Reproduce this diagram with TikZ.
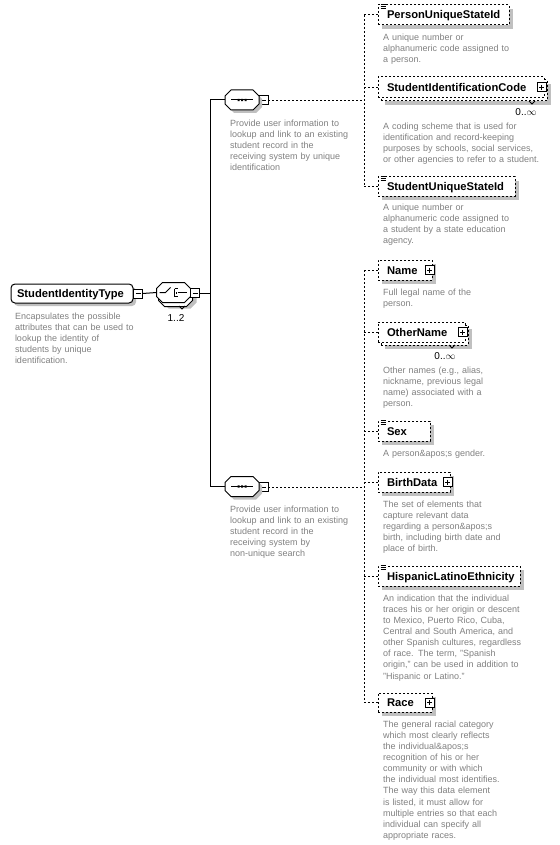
\documentclass[tikz,border=0pt]{standalone}
\usepackage{fontspec}
\setmainfont{Liberation Sans}
\usetikzlibrary{shadows}
\definecolor{desctext}{RGB}{128,128,128}
\definecolor{shadegray}{RGB}{192,192,192}
\tikzset{
  every node/.style={inner sep=0pt, outer sep=0pt},
  shd/.style={drop shadow={shadow xshift=#1, shadow yshift=-#1, fill=shadegray, opacity=1}},
  shd/.default=4pt,
  dashline/.style={line width=1pt, dash pattern=on 2pt off 2pt},
  elembox/.style={rectangle, draw=black, dashline, fill=white, anchor=north west},
  elem/.style={elembox, shd},
  ename/.style={anchor=base west, font=\fontsize{11.2}{13}\selectfont\bfseries},
  dsc/.style={anchor=base west, text width=200pt, align=left, text=desctext, font=\fontsize{9}{11.1}\selectfont},
  qty/.style={font=\fontsize{10}{12}\selectfont},
  pmbox/.style={rectangle, draw=black, fill=white, solid, line width=1pt, minimum size=9pt},
  plusbox/.style={pmbox, path picture={\draw[line width=1pt]
    ([xshift=2pt]path picture bounding box.west) -- ([xshift=-2pt]path picture bounding box.east)
    ([yshift=-2pt]path picture bounding box.north) -- ([yshift=2pt]path picture bounding box.south);}},
  minusbox/.style={pmbox, path picture={\draw[line width=1pt]
    ([xshift=2pt]path picture bounding box.west) -- ([xshift=-2pt]path picture bounding box.east);}},
  comp/.style={rectangle, minimum width=34pt, minimum height=20pt},
  conn/.style={line width=1pt},
  typebox/.style={rectangle, rounded corners=4pt, draw=black, fill=white, line width=1pt, anchor=north west, shd=3pt},
}
% octagonal compositor outline centred on a node, shifted by (#2)
\newcommand\compshape[3]{%
  \begin{scope}[shift={(#1)}, shift={(#2)}]
    \path[#3] (-11,-10) -- (11,-10) -- (17,-4) -- (17,4) -- (11,10) -- (-11,10) -- (-17,4) -- (-17,-4) -- cycle;
  \end{scope}}
\newcommand\simpleicon[1]{%
  \begin{scope}[shift={(#1.north west)}]
    \fill[white] (2,-1.5) rectangle (8,4.5);
    \draw[line width=0.8pt] (2.5,-0.5)--(7.5,-0.5) (2.5,1.5)--(7.5,1.5) (2.5,3.5)--(7.5,3.5);
  \end{scope}}
\newcommand\notch[1]{%
  \begin{scope}[shift={(#1)}]
    \draw[line width=0.8pt] (-3,0) -- (0,3) -- (3,0);
  \end{scope}}
\begin{document}
\begin{tikzpicture}[x=1pt,y=-1pt]
\useasboundingbox (0,0) rectangle (559,845);

% root type
\node[typebox, minimum width=122pt, minimum height=19pt] (sit) at (11,284) {};
\node[ename] (sitT) at (17,297.5) {StudentIdentityType};
\node[minusbox] (sitM) at (138,293.5) {};
\node[dsc] (sitD) at (15,319.3) {Encapsulates the possible\\attributes that can be used to\\lookup the identity of\\students by unique\\identification.};

% choice
\node[comp] (choice) at (173.5,292.5) {};
\compshape{choice.center}{6,6}{fill=shadegray}
\compshape{choice.center}{2,4}{fill=white, draw=black, line width=1pt}
\compshape{choice.center}{0,0}{fill=white, draw=black, line width=1pt}
\notch{182,306}
\begin{scope}[shift={(choice.center)}]
  \draw[line width=1pt] (-14,0) -- (-8,0) -- (-3,-5);
  \draw[line width=1pt] (1,-4) -- (1,4) (1,-4) -- (4,-4) (1,4) -- (4,4) (4,0) -- (13,0);
  \fill (2.2,-1) rectangle (3.8,1);
\end{scope}
\node[minusbox] (choiceM) at (195,293) {};
\node[qty] (choiceQ) at (176,318) {1..2};

% sequences
\node[comp] (seq1) at (242,100) {};
\node[minusbox] (seq1M) at (263.5,100.5) {};
\node[comp] (seq2) at (242,486.5) {};
\node[minusbox] (seq2M) at (263.5,487) {};
\foreach \s in {seq1,seq2}{
  \compshape{\s.center}{3,3}{fill=shadegray}
  \compshape{\s.center}{0,0}{fill=white, draw=black, line width=1pt}
  \begin{scope}[shift={(\s.center)}]
    \draw[line width=1pt] (-11,0) -- (11,0);
    \fill (-4.5,-1.2) rectangle (-2.5,1.2) (-1,-1.2) rectangle (1,1.2) (2.5,-1.2) rectangle (4.5,1.2);
  \end{scope}}
\node[dsc] (seq1D) at (230,126.3) {Provide user information to\\lookup and link to an existing\\student record in the\\receiving system by unique\\identification};
\node[dsc] (seq2D) at (230,512.3) {Provide user information to\\lookup and link to an existing\\student record in the\\receiving system by\\non-unique search};

% trunk
\coordinate (tkA) at (210,100);
\coordinate (tkB) at (210,486.5);
\draw[conn] (sitM.east) -- (choice.west);
\draw[conn] (choiceM.east) -- (choiceM.east -| tkA);
\draw[conn] (seq1.west) -- (tkA) -- (tkB) -- (seq2.west);

% ---- first group
\node[elem, minimum width=131pt, minimum height=20pt] (pus) at (378,5) {};
\simpleicon{pus}
\node[ename] (pusT) at (387,19) {PersonUniqueStateId};
\node[dsc] (pusD) at (383,40.3) {A unique number or\\alphanumeric code assigned to\\a person.};

\node[elem, minimum width=166pt, minimum height=21pt] (sicB) at (381,80) {};
\node[elembox, minimum width=166pt, minimum height=21pt] (sic) at (378,77) {};
\notch{532,101}
\node[ename] (sicT) at (387,91.5) {StudentIdentificationCode};
\node[plusbox] (sicP) at (541.5,87.5) {};
\node[qty] (sicQ) at (526,112) {0..$\infty$};
\node[dsc] (sicD) at (383,129.3) {A coding scheme that is used for\\identification and record-keeping\\purposes by schools, social services,\\or other agencies to refer to a student.};

\node[elem, minimum width=137pt, minimum height=19pt] (sus) at (378,177) {};
\simpleicon{sus}
\node[ename] (susT) at (387,190.5) {StudentUniqueStateId};
\node[dsc] (susD) at (383,210.3) {A unique number or\\alphanumeric code assigned to\\a student by a state education\\agency.};

\coordinate (busA) at (364,0);
\draw[dashline] (seq1M.east) -- (seq1M.east -| busA);
\draw[dashline] (pus.west -| busA) -- (sus.west -| busA);
\draw[dashline] (pus.west -| busA) -- (pus.west);
\draw[dashline] (sic.west -| busA) -- (sic.west);
\draw[dashline] (sus.west -| busA) -- (sus.west);

% ---- second group
\node[elem, minimum width=54pt, minimum height=20pt] (name) at (378,260) {};
\node[ename] (nameT) at (387,274) {Name};
\node[plusbox] (nameP) at (429.5,270) {};
\node[dsc] (nameD) at (383,295.3) {Full legal name of the\\person.};

\node[elem, minimum width=87pt, minimum height=20pt] (otherB) at (381,325) {};
\node[elembox, minimum width=87pt, minimum height=20pt] (other) at (378,322) {};
\notch{452,345}
\node[ename] (otherT) at (387,336) {OtherName};
\node[plusbox] (otherP) at (462.5,332) {};
\node[qty] (otherQ) at (445,356) {0..$\infty$};
\node[dsc] (otherD) at (383,373.3) {Other names (e.g., alias,\\nickname, previous legal\\name) associated with a\\person.};

\node[elem, minimum width=52pt, minimum height=20pt] (sex) at (378,421) {};
\simpleicon{sex}
\node[ename] (sexT) at (387,435) {Sex};
\node[dsc] (sexD) at (383,456.3) {A person\&apos;s gender.};

\node[elem, minimum width=72pt, minimum height=20pt] (birth) at (378,472) {};
\node[ename] (birthT) at (387,486) {BirthData};
\node[plusbox] (birthP) at (447.5,482) {};
\node[dsc] (birthD) at (383,507.3) {The set of elements that\\capture relevant data\\regarding a person\&apos;s\\birth, including birth date and\\place of birth.};

\node[elem, minimum width=142pt, minimum height=20pt] (hisp) at (378,566) {};
\simpleicon{hisp}
\node[ename] (hispT) at (387,580) {HispanicLatinoEthnicity};
\node[dsc] (hispD) at (383,601.3) {An indication that the individual\\traces his or her origin or descent\\to Mexico, Puerto Rico, Cuba,\\Central and South America, and\\other Spanish cultures, regardless\\of race. The term, "Spanish\\origin," can be used in addition to\\"Hispanic or Latino."};

\node[elem, minimum width=54pt, minimum height=19pt] (race) at (378,693) {};
\node[ename] (raceT) at (387,706.5) {Race};
\node[plusbox] (raceP) at (429.5,702.5) {};
\node[dsc] (raceD) at (383,727.3) {The general racial category\\which most clearly reflects\\the individual\&apos;s\\recognition of his or her\\community or with which\\the individual most identifies.\\The way this data element\\is listed, it must allow for\\multiple entries so that each\\individual can specify all\\appropriate races.};

\coordinate (busB) at (364,0);
\draw[dashline] (seq2M.east) -- (seq2M.east -| busB);
\draw[dashline] (name.west -| busB) -- (race.west -| busB);
\foreach \e in {name,other,sex,birth,hisp,race}{
  \draw[dashline] (\e.west -| busB) -- (\e.west);
}
\end{tikzpicture}
\end{document}
